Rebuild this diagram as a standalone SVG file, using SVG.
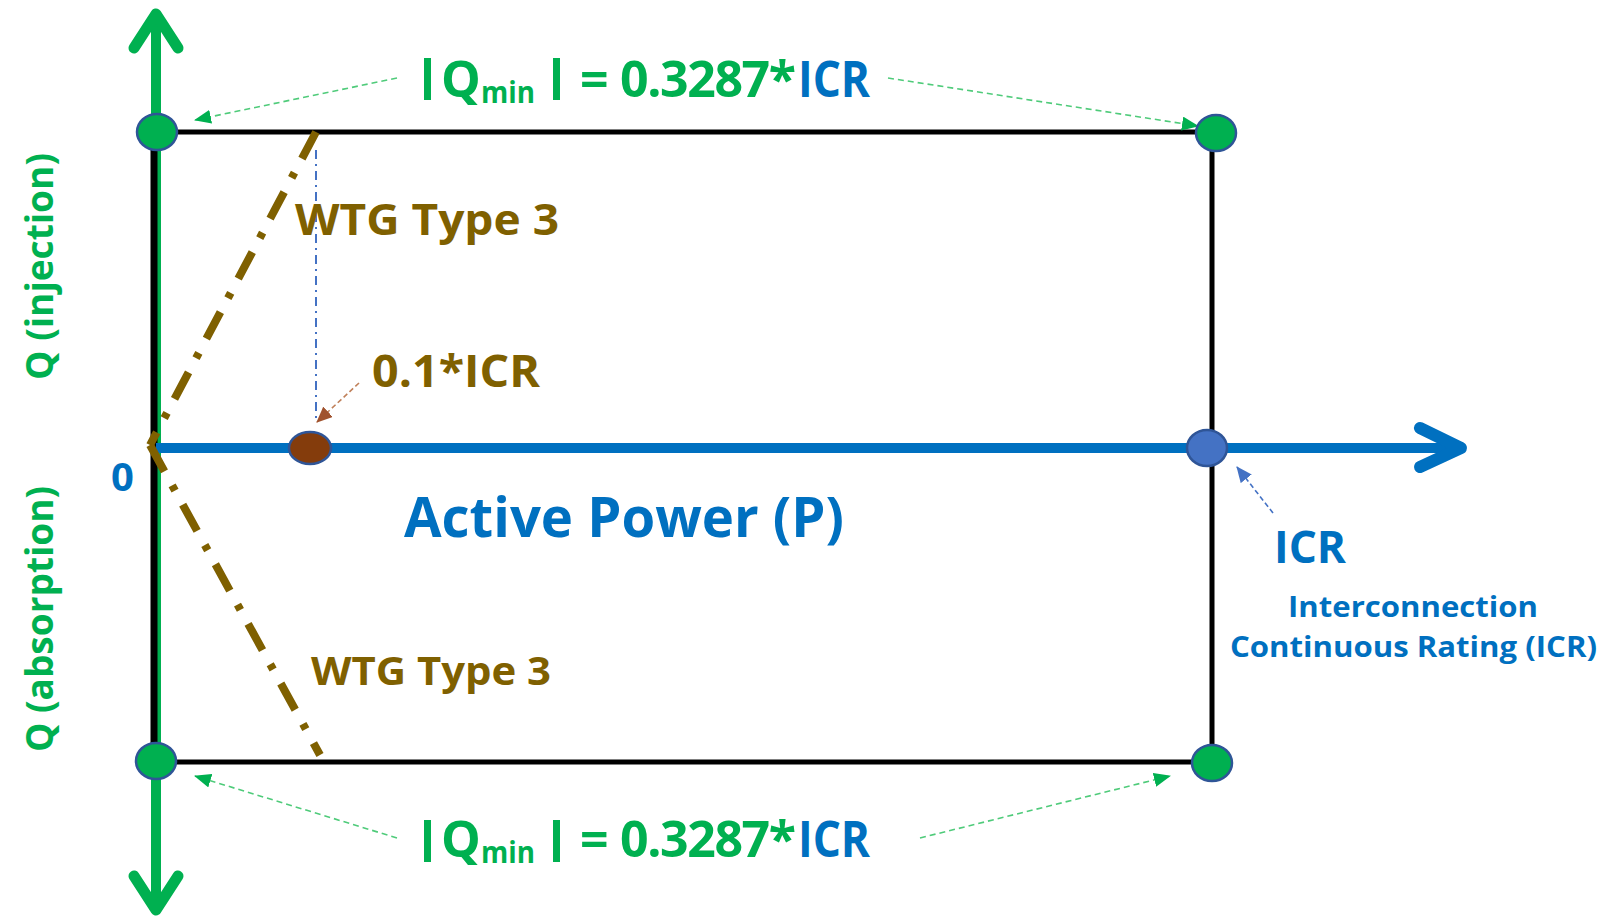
<svg xmlns="http://www.w3.org/2000/svg" width="1604" height="918" viewBox="0 0 1604 918">
<style>
text{font-family:"Open Sans","Liberation Sans",sans-serif;font-weight:700}
.g{fill:#00B050}
.b{fill:#0070C0}
.br{fill:#7F6000}
.node{stroke:#2F5597;stroke-width:2.5}
.lead{fill:none;stroke:#4FCB7A;stroke-width:1.6;stroke-dasharray:6 4}
.wtg{fill:none;stroke:#7F6000;stroke-width:8;stroke-dasharray:30 16 6 16}
</style>
<defs>
<marker id="ag" markerUnits="userSpaceOnUse" markerWidth="18" markerHeight="14" refX="16" refY="7" orient="auto"><path d="M0,0 L17,7 L0,14 Z" fill="#00B050"/></marker>
<marker id="ab" markerUnits="userSpaceOnUse" markerWidth="16" markerHeight="14" refX="15" refY="7" orient="auto"><path d="M0,0 L16,7 L0,14 Z" fill="#4472C4"/></marker>
<marker id="abr" markerUnits="userSpaceOnUse" markerWidth="16" markerHeight="14" refX="15" refY="7" orient="auto"><path d="M0,0 L16,7 L0,14 Z" fill="#A0522D"/></marker>
</defs>
<rect width="1604" height="918" fill="#fff"/>
<g id="connectors">
<line x1="156" y1="12" x2="156" y2="912" stroke="#00B050" stroke-width="10"/>
<polyline points="134,48 156,14 178,48" fill="none" stroke="#00B050" stroke-width="11" stroke-linecap="round" stroke-linejoin="round"/>
<polyline points="134,876 156,910 178,876" fill="none" stroke="#00B050" stroke-width="11" stroke-linecap="round" stroke-linejoin="round"/>
<line x1="154" y1="132" x2="154" y2="762" stroke="#000" stroke-width="7"/>
<line x1="157" y1="132" x2="1214" y2="132" stroke="#000" stroke-width="5"/>
<line x1="157" y1="762" x2="1212" y2="762" stroke="#000" stroke-width="5"/>
<line x1="1212" y1="132" x2="1212" y2="762" stroke="#000" stroke-width="5"/>
<line x1="156" y1="448" x2="1455" y2="448" stroke="#0070C0" stroke-width="10"/>
<polyline points="1420,428 1461,448 1420,467" fill="none" stroke="#0070C0" stroke-width="12" stroke-linecap="round" stroke-linejoin="round"/>
<line class="wtg" x1="316" y1="132" x2="150" y2="445"/>
<line class="wtg" x1="150" y1="445" x2="320" y2="755"/>
<line x1="316" y1="150" x2="316" y2="423" stroke="#4472C4" stroke-width="2" stroke-dasharray="9 5 2 5"/>
<line class="lead" x1="397" y1="78" x2="195" y2="120" marker-end="url(#ag)"/>
<line class="lead" x1="888" y1="78" x2="1198" y2="126" marker-end="url(#ag)"/>
<line class="lead" x1="397" y1="838" x2="195" y2="776" marker-end="url(#ag)"/>
<line class="lead" x1="920" y1="838" x2="1170" y2="776" marker-end="url(#ag)"/>
<line x1="359" y1="383" x2="317" y2="422" stroke="#C0805A" stroke-width="1.6" stroke-dasharray="5 3" marker-end="url(#abr)"/>
<line x1="1273" y1="513" x2="1237" y2="467" stroke="#4472C4" stroke-width="1.6" stroke-dasharray="5 3" marker-end="url(#ab)"/>
</g>
<g id="node-qmax-left"><ellipse class="node" cx="157" cy="132" rx="20" ry="18" fill="#00B050"/></g>
<g id="node-qmax-right"><ellipse class="node" cx="1216" cy="133" rx="20" ry="18" fill="#00B050"/></g>
<g id="node-qmin-left"><ellipse class="node" cx="156" cy="761" rx="20" ry="18" fill="#00B050"/></g>
<g id="node-qmin-right"><ellipse class="node" cx="1212" cy="763" rx="20" ry="18" fill="#00B050"/></g>
<g id="node-01icr"><ellipse class="node" cx="310" cy="448" rx="21" ry="16" fill="#843C0C"/></g>
<g id="node-icr"><ellipse class="node" cx="1207" cy="448" rx="20" ry="18" fill="#4472C4"/></g>
<g id="labels">
<text class="g" transform="translate(53,380) rotate(-90)" font-size="37" textLength="227" lengthAdjust="spacingAndGlyphs">Q (injection)</text>
<text class="g" transform="translate(53,752) rotate(-90)" font-size="37" textLength="266" lengthAdjust="spacingAndGlyphs">Q (absorption)</text>
<g id="label-top">
<rect x="424" y="58" width="7" height="42" fill="#00B050"/>
<text class="g" x="441" y="97" font-size="50">Q</text>
<text class="g" x="481" y="103" font-size="31" textLength="54" lengthAdjust="spacingAndGlyphs">min</text>
<rect x="553" y="58" width="7" height="42" fill="#00B050"/>
<text class="g" x="580" y="97" font-size="50">=</text>
<text class="g" x="620" y="97" font-size="50" textLength="176">0.3287*</text>
<text class="b" x="798" y="97" font-size="50" textLength="72" lengthAdjust="spacingAndGlyphs">ICR</text>
</g>
<g id="label-bottom">
<rect x="424" y="820" width="7" height="42" fill="#00B050"/>
<text class="g" x="441" y="857" font-size="50">Q</text>
<text class="g" x="481" y="863" font-size="31" textLength="54" lengthAdjust="spacingAndGlyphs">min</text>
<rect x="553" y="820" width="7" height="42" fill="#00B050"/>
<text class="g" x="580" y="857" font-size="50">=</text>
<text class="g" x="620" y="857" font-size="50" textLength="176">0.3287*</text>
<text class="b" x="798" y="857" font-size="50" textLength="72" lengthAdjust="spacingAndGlyphs">ICR</text>
</g>
<text class="br" x="295" y="235" font-size="43" textLength="264" lengthAdjust="spacingAndGlyphs">WTG Type 3</text>
<text class="br" x="311" y="685" font-size="40" textLength="240" lengthAdjust="spacingAndGlyphs">WTG Type 3</text>
<text class="br" x="372" y="387" font-size="44" textLength="168" lengthAdjust="spacingAndGlyphs">0.1*ICR</text>
<text class="b" x="111" y="491" font-size="40">0</text>
<text class="b" x="404" y="537" font-size="56" textLength="440" lengthAdjust="spacingAndGlyphs">Active Power (P)</text>
<text class="b" x="1274" y="563" font-size="44" textLength="72" lengthAdjust="spacingAndGlyphs">ICR</text>
<text class="b" x="1288" y="617" font-size="29" textLength="250" lengthAdjust="spacingAndGlyphs">Interconnection</text>
<text class="b" x="1230" y="657" font-size="29" textLength="367" lengthAdjust="spacingAndGlyphs">Continuous Rating (ICR)</text>
</g>
</svg>
